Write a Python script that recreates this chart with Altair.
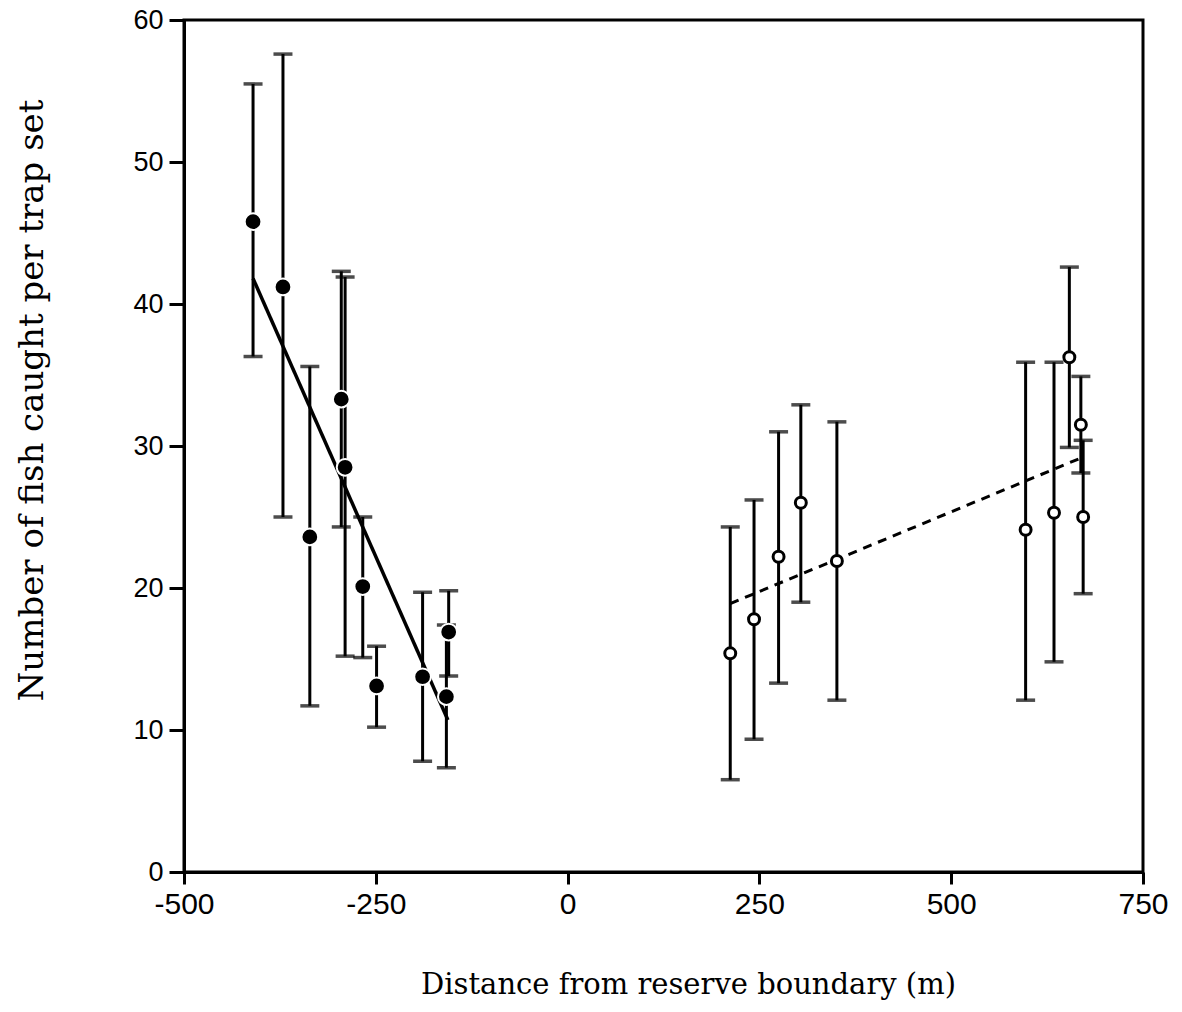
import altair as alt
import pandas as pd

# Filled circles (inside reserve side, negative distances)
left_x = [-410, -371, -336, -295, -290, -267, -249, -189, -155, -158]
left_y = [45.8, 41.2, 23.6, 33.3, 28.5, 20.1, 13.1, 13.75, 16.9, 12.35]
left_hi = [55.5, 57.6, 35.6, 42.3, 41.9, 25.0, 15.9, 19.7, 19.8, 17.4]
left_lo = [36.3, 25.0, 11.7, 24.3, 15.2, 15.1, 10.2, 7.8, 13.8, 7.35]

# Open circles (positive distances)
right_x = [212, 243, 275, 304, 351, 597, 634, 654, 669, 672]
right_y = [15.4, 17.8, 22.2, 26.0, 21.9, 24.1, 25.3, 36.25, 31.5, 25.0]
right_hi = [24.3, 26.2, 31.0, 32.9, 31.7, 35.9, 35.9, 42.6, 34.9, 30.4]
right_lo = [6.5, 9.35, 13.3, 19.0, 12.1, 12.1, 14.8, 29.9, 28.1, 19.6]

# Fitted regression lines (end points)
fit_left_x = [-410, -156]
fit_left_y = [41.8, 10.7]
fit_right_x = [212, 671]
fit_right_y = [18.9, 29.2]

x_ticks = [-500, -250, 0, 250, 500, 750]
y_ticks = [0, 10, 20, 30, 40, 50, 60]

TITLE_FONT = "DejaVu Serif"
LABEL_FONT = "Liberation Sans"

left = pd.DataFrame({"x": left_x, "y": left_y, "hi": left_hi, "lo": left_lo})
right = pd.DataFrame({"x": right_x, "y": right_y, "hi": right_hi, "lo": right_lo})
fl = pd.DataFrame({"x": fit_left_x, "y": fit_left_y})
fr = pd.DataFrame({"x": fit_right_x, "y": fit_right_y})

xs = alt.Scale(domain=[-500, 750], nice=False, zero=False)
ys = alt.Scale(domain=[0, 60], nice=False)

X = alt.X("x:Q", scale=xs, axis=alt.Axis(
    values=x_ticks, title="Distance from reserve boundary (m)", grid=False,
    tickSize=12, labelPadding=5, labelFlush=False,
    labelFont=LABEL_FONT, labelFontSize=30,
    labelExpr="datum.value < 0 ? '-' + abs(datum.value) : '' + datum.value",
    titleX=504, titleY=121, titleBaseline="alphabetic", titleAnchor="middle",
    titleFontSize=29))
Y = alt.Y("y:Q", scale=ys, axis=alt.Axis(
    values=y_ticks, title="Number of fish caught per trap set", grid=False,
    tickSize=15, labelPadding=6, labelFont=LABEL_FONT, labelFontSize=27,
    titleX=-142, titleY=380, titleAngle=-90, titleBaseline="alphabetic",
    titleAlign="center", titleFontSize=34))


def bars(df):
    base = alt.Chart(df)
    rule = base.mark_rule(color="black", strokeWidth=3).encode(
        x=alt.X("x:Q", scale=xs), y=alt.Y("lo:Q", scale=ys), y2="hi:Q")
    cap_hi = base.mark_tick(color="black", size=19, thickness=3.5, orient="horizontal").encode(
        x=alt.X("x:Q", scale=xs), y=alt.Y("hi:Q", scale=ys))
    cap_lo = base.mark_tick(color="black", size=19, thickness=3.5, orient="horizontal").encode(
        x=alt.X("x:Q", scale=xs), y=alt.Y("lo:Q", scale=ys))
    return rule + cap_hi + cap_lo


line_l = alt.Chart(fl).mark_line(color="black", strokeWidth=3.5).encode(x=X, y=Y)
line_r = alt.Chart(fr).mark_line(color="black", strokeWidth=3, strokeDash=[9, 7]).encode(
    x=alt.X("x:Q", scale=xs), y=alt.Y("y:Q", scale=ys))

pts_l = alt.Chart(left).mark_point(shape="circle", filled=True, fill="black", stroke="white",
                                   strokeWidth=2, size=280, opacity=1).encode(
    x=alt.X("x:Q", scale=xs), y=alt.Y("y:Q", scale=ys))
pts_r = alt.Chart(right).mark_point(shape="circle", filled=False, fill="white", stroke="black",
                                    strokeWidth=3, size=120, opacity=1, fillOpacity=1).encode(
    x=alt.X("x:Q", scale=xs), y=alt.Y("y:Q", scale=ys))

chart = alt.layer(
    line_l, bars(left), bars(right), line_r, pts_l, pts_r
).properties(
    width=959, height=852,
    autosize=alt.AutoSizeParams(type="none"),
    padding={"left": 184, "top": 20, "right": 39, "bottom": 140},
    background="white",
).configure_view(
    stroke="black", strokeWidth=3
).configure_axis(
    domainColor="black", domainWidth=3, tickColor="black", tickWidth=3,
    labelColor="black",
    titleFont=TITLE_FONT, titleColor="black", titleFontWeight="normal",
)

chart.save("out.html", embed_options={"renderer": "svg", "actions": False})
